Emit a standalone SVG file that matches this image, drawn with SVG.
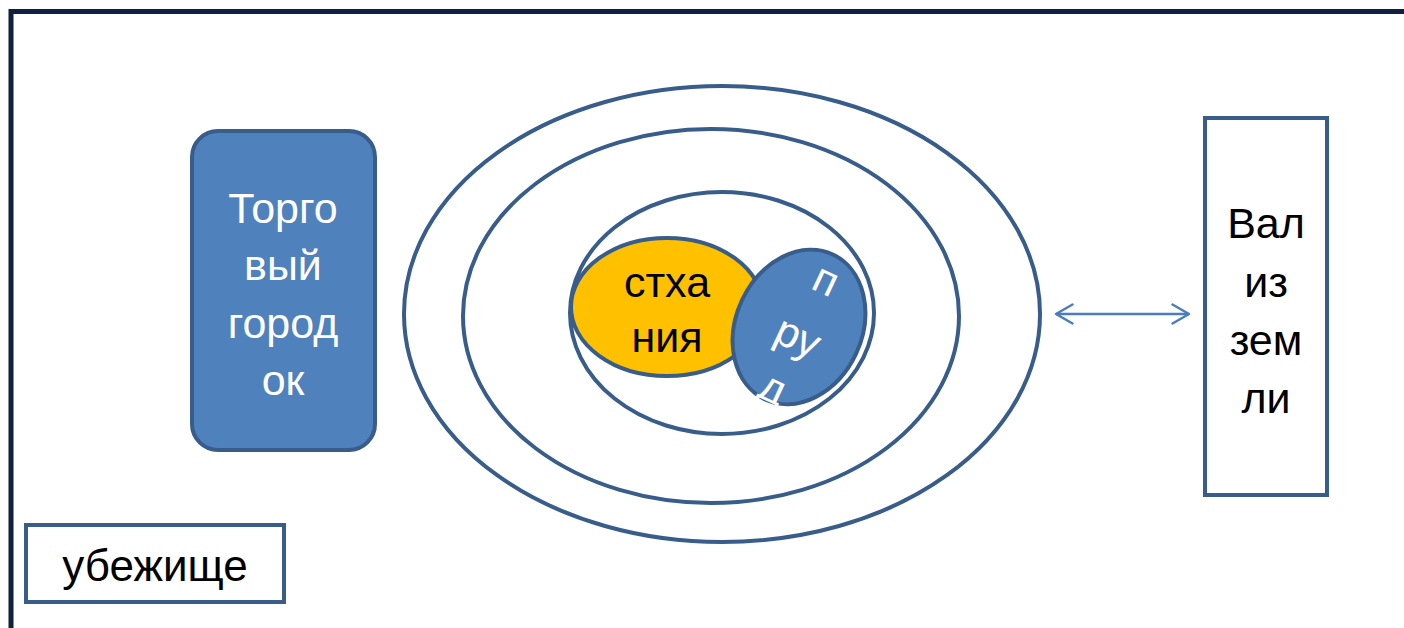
<svg xmlns="http://www.w3.org/2000/svg" width="1404" height="628" viewBox="0 0 1404 628">
<style>
.sh{stroke:#385d8a;stroke-width:4}
.blue{fill:#4f81bd}
.white{fill:#ffffff}
.none{fill:none}
.t{font-family:"Liberation Sans","Open Sans",sans-serif;font-size:43px;text-anchor:middle}
.tw{fill:#ffffff}
.tb{fill:#000000}
</style>
<defs>
<marker id="ah" viewBox="0 0 20 22" refX="18" refY="11" markerWidth="20" markerHeight="22" markerUnits="userSpaceOnUse" orient="auto-start-reverse">
<path d="M1.5 1.5 L18 11 L1.5 20.5" fill="none" stroke="#4a7ebb" stroke-width="2.5" stroke-linecap="round" stroke-linejoin="round"/>
</marker>
</defs>
<rect width="1404" height="628" fill="#ffffff"/>
<path d="M11 628 V11.5 H1404" fill="none" stroke="#10213f" stroke-width="5"/>
<g id="torgovy">
<rect x="192" y="131" width="183" height="319" rx="26" class="sh blue"/>
<text class="t tw" x="283" y="223">Торго</text>
<text class="t tw" x="283" y="280">вый</text>
<text class="t tw" x="283" y="338">город</text>
<text class="t tw" x="283" y="395">ок</text>
</g>
<g id="outer">
<ellipse cx="722" cy="314" rx="318" ry="228" class="sh none"/>
</g>
<g id="middle">
<ellipse cx="711" cy="316" rx="248" ry="187" class="sh none"/>
</g>
<g id="inner">
<ellipse cx="722" cy="313" rx="152" ry="121" class="sh none"/>
</g>
<g id="stkhania">
<ellipse cx="667" cy="307" rx="96" ry="69" class="sh" fill="#ffc000"/>
<text class="t tb" x="667" y="297">стха</text>
<text class="t tb" x="667" y="352">ния</text>
</g>
<g id="prud">
<ellipse cx="799" cy="327" rx="63" ry="80" transform="rotate(25 799 327)" class="sh blue"/>
<text class="t tw" x="820" y="293" transform="rotate(25 820 293)">п</text>
<text class="t tw" x="792" y="350" transform="rotate(25 792 350)">ру</text>
<text class="t tw" x="767" y="401" transform="rotate(25 767 401)">д</text>
</g>
<g id="val">
<rect x="1205" y="118" width="122" height="377" class="sh white"/>
<text class="t tb" x="1266" y="238">Вал</text>
<text class="t tb" x="1266" y="297">из</text>
<text class="t tb" x="1266" y="355">зем</text>
<text class="t tb" x="1266" y="413">ли</text>
</g>
<g id="ubezhishche">
<rect x="26" y="525" width="258" height="77" class="sh white"/>
<text class="t tb" x="155" y="581" style="font-size:44px">убежище</text>
</g>
<g id="connectors">
<line x1="1056" y1="314" x2="1189" y2="314" stroke="#4a7ebb" stroke-width="2.5" marker-start="url(#ah)" marker-end="url(#ah)"/>
</g>
</svg>
